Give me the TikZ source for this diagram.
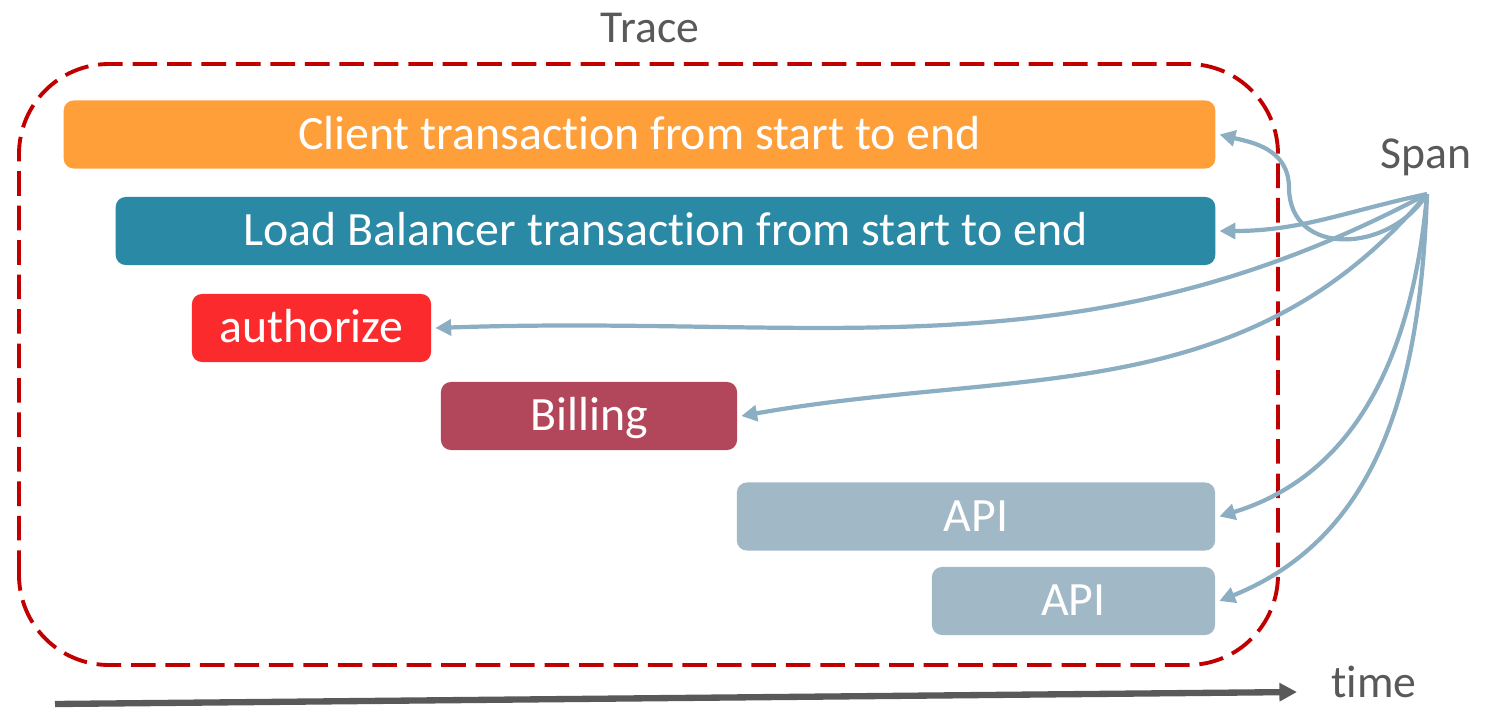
\documentclass[tikz,border=0pt]{standalone}
\usepackage{fontspec}
\setmainfont{Carlito}[Ligatures=NoCommon]
\usetikzlibrary{arrows.meta}

\definecolor{clientorange}{HTML}{FF9F3A}
\definecolor{lbteal}{HTML}{2A89A5}
\definecolor{authred}{HTML}{FB2A2C}
\definecolor{billwine}{HTML}{B2475C}
\definecolor{apigray}{HTML}{A1B8C7}
\definecolor{linkblue}{HTML}{8CAEC2}
\definecolor{tracered}{HTML}{C00000}
\definecolor{labelgray}{HTML}{595959}

\begin{document}
\begin{tikzpicture}[x=0.01cm,y=0.01cm,
  bar/.style={rounded corners=0.1cm, minimum height=0.68cm, inner sep=0pt,
    text height=10pt, text depth=1.6pt, text=white,
    font=\fontsize{13.6}{16}\selectfont},
  link/.style={draw=linkblue, line width=1.2pt, -{Triangle[length=4.5pt,width=4.5pt]}},
  lbl/.style={text=labelgray, anchor=base, font=\fontsize{13}{16}\selectfont}]
\useasboundingbox (0,0) rectangle (1499,708);

% the trace frame
\draw[tracered, line width=1.1pt, dash pattern=on 7pt off 2.8pt, rounded corners=0.9cm]
  (19,43) rectangle (1278,644);
\node (trace) [lbl] at (650,666) {Trace};

% spans
\node (client) [bar, fill=clientorange, minimum width=11.51cm] at (639.5,573.5) {Client transaction from start to end};
\node (lb) [bar, fill=lbteal, minimum width=10.99cm] at (665.5,477) {Load Balancer transaction from start to end};
\node (auth) [bar, fill=authred, minimum width=2.39cm] at (311.5,380) {authorize};
\node (bill) [bar, fill=billwine, minimum width=2.96cm] at (589,292) {Billing};
\node (api) [bar, fill=apigray, minimum width=4.78cm] at (976,191.5) {API};
\node (apitwo) [bar, fill=apigray, minimum width=2.83cm] at (1073.5,107) {API};

\node (span) [lbl] at (1426,540) {Span};
\coordinate (spanfoot) at (1427,514);

\draw[link] (spanfoot) .. controls (1390,455) and (1290,450) .. (1289,520)
  .. controls (1289,560) and (1250,566) .. ([xshift=1pt]client.east);
\draw[link] (spanfoot) to[out=192,in=0] ([xshift=1pt]lb.east);
\draw[link] (spanfoot) to[out=208,in=2] ([xshift=1pt]auth.east);
\draw[link] (spanfoot) to[out=230,in=10] ([xshift=1pt]bill.east);
\draw[link] (spanfoot) to[out=265,in=17] ([xshift=1pt]api.east);
\draw[link] (spanfoot) to[out=268,in=22] ([xshift=1pt]apitwo.east);

% time axis
\coordinate (t0) at (55,4);
\coordinate (t1) at (1297,16);
\draw[labelgray, line width=1.8pt, -{Triangle[length=5pt,width=5pt]}] (t0) -- (t1);
\node (time) [lbl] at (1374,11) {time};
\end{tikzpicture}
\end{document}
